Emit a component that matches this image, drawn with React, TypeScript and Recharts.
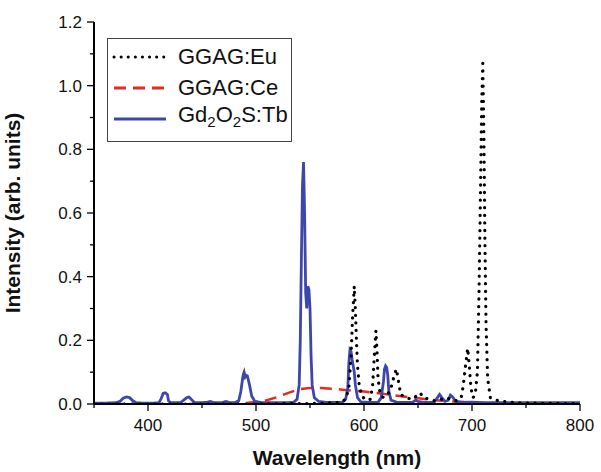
import React from "react";
import { LineChart, Line, XAxis, YAxis } from "recharts";

// ---------- data ----------
const tbWavelength = [350,360,370,374,377,380,383,386,389,395,405,410,412,414,416,418,419,421,430,433,436,438,440,443,450,455,458,461,468,472,475,480,484,486,488,489,490,491,492,494,496,499,505,520,530,535,538,540,541,542,543,544,545,546,547,548,549,550,551,552,554,558,565,575,580,583,585,586,587,588,589,590,591,592,594,597,605,613,616,618,619,620,621,622,623,625,630,640,645,648,650,655,665,668,670,672,675,678,680,682,685,690,700,710,730,760,800];
const tbIntensity = [0.003,0.003,0.004,0.008,0.018,0.022,0.02,0.01,0.004,0.003,0.003,0.004,0.015,0.033,0.035,0.03,0.01,0.004,0.004,0.012,0.02,0.022,0.015,0.005,0.004,0.006,0.008,0.004,0.004,0.008,0.005,0.004,0.01,0.04,0.09,0.1,0.085,0.09,0.088,0.06,0.025,0.008,0.004,0.004,0.004,0.006,0.015,0.06,0.2,0.45,0.68,0.76,0.6,0.35,0.3,0.37,0.36,0.3,0.15,0.06,0.02,0.008,0.005,0.005,0.006,0.015,0.05,0.13,0.17,0.165,0.14,0.12,0.1,0.06,0.02,0.007,0.005,0.005,0.02,0.07,0.11,0.12,0.115,0.09,0.04,0.012,0.006,0.005,0.006,0.012,0.008,0.005,0.006,0.02,0.03,0.02,0.008,0.012,0.028,0.022,0.008,0.005,0.006,0.004,0.004,0.004,0.004];

const euWavelength = [350,500,560,578,583,586,588,589.5,591,592,593,594,595.5,598,602,606,608,609.5,611,612,613,615,618,622,625,628,630,632,634,638,645,650,652,655,660,665,672,676,680,686,690,692,694,696,697.5,699,701,703,705,706.5,708,709,710,711,712,713,714.5,717,722,730,740,750,770,800];
const euIntensity = [0,0,0.002,0.005,0.015,0.05,0.15,0.28,0.37,0.3,0.2,0.12,0.06,0.025,0.012,0.015,0.06,0.15,0.23,0.17,0.08,0.03,0.02,0.03,0.05,0.09,0.11,0.07,0.03,0.02,0.015,0.03,0.035,0.02,0.015,0.01,0.015,0.02,0.015,0.01,0.02,0.06,0.12,0.175,0.12,0.05,0.02,0.03,0.1,0.35,0.7,0.95,1.07,0.85,0.5,0.25,0.08,0.02,0.012,0.008,0.004,0.003,0.002,0.001];

const ceWavelength = [350,450,480,490,500,510,520,530,540,550,560,570,580,590,600,620,640,660,680,700,720,750,800];
const ceIntensity = [0,0,0.001,0.003,0.006,0.012,0.022,0.035,0.047,0.05,0.05,0.048,0.045,0.042,0.039,0.031,0.022,0.014,0.008,0.005,0.003,0.002,0.001];

const xTicks = [350,400,450,500,550,600,650,700,750,800];
const xMajor = [400,500,600,700,800];
const yTicks = [0,0.1,0.2,0.3,0.4,0.5,0.6,0.7,0.8,0.9,1.0,1.1,1.2];
const yMajor = [0,0.2,0.4,0.6,0.8,1.0,1.2];

const seriesNames = ["GGAG:Eu", "GGAG:Ce", "Gd2O2S:Tb"];

const euData = euWavelength.map((w, i) => ({ w, v: euIntensity[i] }));
const ceData = ceWavelength.map((w, i) => ({ w, v: ceIntensity[i] }));
const tbData = tbWavelength.map((w, i) => ({ w, v: tbIntensity[i] }));

const FONT = "'Liberation Sans', Arial, sans-serif";
const BLUE = "#3d47ab";
const RED = "#e62a1f";

const XTick = (props: any) => {
  const { x, y, payload } = props;
  const v = payload.value;
  const major = xMajor.includes(v);
  return (
    <g>
      <line x1={x} x2={x} y1={y} y2={y + (major ? 7 : 4)} stroke="#000" strokeWidth={1.3} />
      {major && (
        <text x={x} y={y + 27} textAnchor="middle" fontSize={17} fontFamily={FONT} fill="#111">
          {v}
        </text>
      )}
    </g>
  );
};

const YTick = (props: any) => {
  const { x, y, payload } = props;
  const v = payload.value;
  const major = yMajor.some((m) => Math.abs(m - v) < 1e-6);
  return (
    <g>
      <line x1={x} x2={x - (major ? 7 : 4)} y1={y} y2={y} stroke="#000" strokeWidth={1.3} />
      {major && (
        <text x={x - 12} y={y + 6} textAnchor="end" fontSize={17} fontFamily={FONT} fill="#111">
          {v.toFixed(1)}
        </text>
      )}
    </g>
  );
};

const LegendBox = () => {
  const row = (sample: React.ReactNode, label: React.ReactNode) => (
    <div style={{ display: "flex", alignItems: "center", height: 31 }}>
      <svg width={58} height={10} style={{ marginLeft: 4, marginRight: 8 }}>{sample}</svg>
      <span style={{ fontSize: 22, fontFamily: FONT, color: "#111", lineHeight: "31px" }}>{label}</span>
    </div>
  );
  return (
    <div style={{ position: "absolute", left: 107, top: 38, border: "1px solid #444", background: "#fff", width: 185, height: 104, boxSizing: "border-box", paddingTop: 2 }}>
      {row(<line x1={2} x2={54} y1={5} y2={5} stroke="#000" strokeWidth={3} strokeDasharray="0.1 7" strokeLinecap="round" />, seriesNames[0])}
      {row(<line x1={2} x2={54} y1={5} y2={5} stroke={RED} strokeWidth={3} strokeDasharray="12 7" />, seriesNames[1])}
      {row(<line x1={2} x2={54} y1={5} y2={5} stroke={BLUE} strokeWidth={2.8} />, <span>Gd<sub style={{ fontSize: 15 }}>2</sub>O<sub style={{ fontSize: 15 }}>2</sub>S:Tb</span>)}
    </div>
  );
};

export default function App() {
  return (
    <div style={{ position: "absolute", left: 0, top: 0, width: 601, height: 472, background: "#fff" }}>
      <LineChart width={601} height={472} margin={{ top: 22, right: 21, bottom: 0, left: 0 }}>
        <XAxis
          dataKey="w"
          type="number"
          domain={[350, 800]}
          ticks={xTicks}
          allowDataOverflow
          tick={<XTick />}
          tickLine={false}
          tickSize={0}
          tickMargin={0}
          height={68}
          axisLine={{ stroke: "#000", strokeWidth: 2 }}
          label={{ value: "Wavelength (nm)", position: "insideBottom", offset: 7, style: { fontSize: 21, fontWeight: "bold", fontFamily: FONT, fill: "#111" } }}
        />
        <XAxis xAxisId="top" orientation="top" type="number" domain={[350, 800]} tick={false} tickLine={false} height={0} axisLine={{ stroke: "#000", strokeWidth: 2 }} />
        <YAxis
          type="number"
          domain={[0, 1.2]}
          ticks={yTicks}
          allowDataOverflow
          tick={<YTick />}
          tickLine={false}
          tickSize={0}
          tickMargin={0}
          width={94}
          axisLine={{ stroke: "#000", strokeWidth: 2 }}
          label={{ value: "Intensity (arb. units)", angle: -90, position: "insideLeft", offset: 13, style: { fontSize: 21, fontWeight: "bold", fontFamily: FONT, fill: "#111", textAnchor: "middle" } }}
        />
        <YAxis yAxisId="right" orientation="right" type="number" domain={[0, 1.2]} tick={false} tickLine={false} width={0} axisLine={{ stroke: "#000", strokeWidth: 2 }} />
        <Line data={ceData} dataKey="v" name={seriesNames[1]} type="linear" stroke={RED} strokeWidth={2.5} strokeDasharray="12 7" dot={false} isAnimationActive={false} />
        <Line data={tbData} dataKey="v" name={seriesNames[2]} type="linear" stroke={BLUE} strokeWidth={2.8} dot={false} isAnimationActive={false} />
        <Line data={euData} dataKey="v" name={seriesNames[0]} type="linear" stroke="#000" strokeWidth={3.2} strokeDasharray="0.1 7.5" strokeLinecap="round" dot={false} isAnimationActive={false} />
      </LineChart>
      <LegendBox />
    </div>
  );
}
